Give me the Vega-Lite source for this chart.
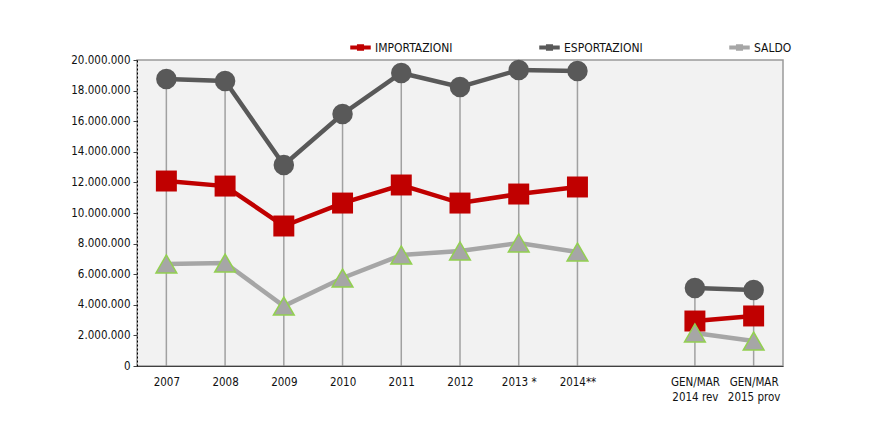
{
  "$schema": "https://vega.github.io/schema/vega-lite/v6.json",
  "autosize": "none",
  "width": 646,
  "height": 306,
  "padding": {"left": 137, "top": 60, "right": 95, "bottom": 64},
  "background": "white",
  "config": {
    "locale": {"number": {"decimal": ",", "thousands": ".", "grouping": [3], "currency": ["€", ""]}},
    "font": "DejaVu Sans Condensed",
    "view": {"fill": "#f2f2f2", "stroke": "#9a9a9a", "strokeWidth": 1.5}
  },
  "data": {"values": [
    {"periodo": "2007", "serie": "ESPORTAZIONI", "valore": 18760000, "gruppo": "anni"},
    {"periodo": "2008", "serie": "ESPORTAZIONI", "valore": 18630000, "gruppo": "anni"},
    {"periodo": "2009", "serie": "ESPORTAZIONI", "valore": 13140000, "gruppo": "anni"},
    {"periodo": "2010", "serie": "ESPORTAZIONI", "valore": 16470000, "gruppo": "anni"},
    {"periodo": "2011", "serie": "ESPORTAZIONI", "valore": 19150000, "gruppo": "anni"},
    {"periodo": "2012", "serie": "ESPORTAZIONI", "valore": 18240000, "gruppo": "anni"},
    {"periodo": "2013 *", "serie": "ESPORTAZIONI", "valore": 19350000, "gruppo": "anni"},
    {"periodo": "2014**", "serie": "ESPORTAZIONI", "valore": 19280000, "gruppo": "anni"},
    {"periodo": "GEN/MAR 2014 rev", "serie": "ESPORTAZIONI", "valore": 5100000, "gruppo": "trimestre"},
    {"periodo": "GEN/MAR 2015 prov", "serie": "ESPORTAZIONI", "valore": 4970000, "gruppo": "trimestre"},
    {"periodo": "2007", "serie": "IMPORTAZIONI", "valore": 12090000, "gruppo": "anni"},
    {"periodo": "2008", "serie": "IMPORTAZIONI", "valore": 11760000, "gruppo": "anni"},
    {"periodo": "2009", "serie": "IMPORTAZIONI", "valore": 9150000, "gruppo": "anni"},
    {"periodo": "2010", "serie": "IMPORTAZIONI", "valore": 10650000, "gruppo": "anni"},
    {"periodo": "2011", "serie": "IMPORTAZIONI", "valore": 11830000, "gruppo": "anni"},
    {"periodo": "2012", "serie": "IMPORTAZIONI", "valore": 10650000, "gruppo": "anni"},
    {"periodo": "2013 *", "serie": "IMPORTAZIONI", "valore": 11240000, "gruppo": "anni"},
    {"periodo": "2014**", "serie": "IMPORTAZIONI", "valore": 11700000, "gruppo": "anni"},
    {"periodo": "GEN/MAR 2014 rev", "serie": "IMPORTAZIONI", "valore": 2940000, "gruppo": "trimestre"},
    {"periodo": "GEN/MAR 2015 prov", "serie": "IMPORTAZIONI", "valore": 3270000, "gruppo": "trimestre"},
    {"periodo": "2007", "serie": "SALDO", "valore": 6670000, "gruppo": "anni"},
    {"periodo": "2008", "serie": "SALDO", "valore": 6730000, "gruppo": "anni"},
    {"periodo": "2009", "serie": "SALDO", "valore": 3920000, "gruppo": "anni"},
    {"periodo": "2010", "serie": "SALDO", "valore": 5750000, "gruppo": "anni"},
    {"periodo": "2011", "serie": "SALDO", "valore": 7250000, "gruppo": "anni"},
    {"periodo": "2012", "serie": "SALDO", "valore": 7520000, "gruppo": "anni"},
    {"periodo": "2013 *", "serie": "SALDO", "valore": 8040000, "gruppo": "anni"},
    {"periodo": "2014**", "serie": "SALDO", "valore": 7450000, "gruppo": "anni"},
    {"periodo": "GEN/MAR 2014 rev", "serie": "SALDO", "valore": 2160000, "gruppo": "trimestre"},
    {"periodo": "GEN/MAR 2015 prov", "serie": "SALDO", "valore": 1630000, "gruppo": "trimestre"}
  ]},
  "encoding": {
    "x": {
      "field": "periodo", "type": "ordinal",
      "scale": {"type": "point", "padding": 0.5,
        "domain": ["2007", "2008", "2009", "2010", "2011", "2012", "2013 *", "2014**", " ", "GEN/MAR 2014 rev", "GEN/MAR 2015 prov"]},
      "axis": {
        "title": null, "labelAngle": 0, "ticks": false, "domainColor": "#404040", "domainWidth": 1,
        "labelFontSize": 11.5, "labelColor": "#111111", "labelPadding": 10, "labelLineHeight": 15,
        "labelExpr": "indexof(datum.label, 'GEN') == 0 ? [slice(datum.label, 0, 7), slice(datum.label, 8)] : datum.label"
      }
    },
    "y": {"field": "valore", "type": "quantitative",
      "scale": {"domain": [0, 20000000]},
      "axis": {"title": null, "values": [0, 2000000, 4000000, 6000000, 8000000, 10000000, 12000000, 14000000, 16000000, 18000000, 20000000],
        "format": ",d", "grid": false, "labelOverlap": false, "domainDash": [2, 2], "domainColor": "#000000", "domainWidth": 1,
        "tickColor": "#404040", "tickSize": 4, "labelFontSize": 11.5, "labelColor": "#111111", "labelPadding": 3}}
  },
  "layer": [
    {
      "mark": {"type": "rule", "color": "#8c8c8c", "strokeWidth": 1.5, "opacity": 0.8},
      "encoding": {
        "y": {"aggregate": "max", "field": "valore", "type": "quantitative"},
        "y2": {"datum": 0}
      }
    },
    {
      "mark": {"type": "line", "strokeWidth": 4.5},
      "encoding": {
        "color": {"field": "serie", "type": "nominal",
          "scale": {"domain": ["IMPORTAZIONI", "ESPORTAZIONI", "SALDO"], "range": ["#c00000", "#595959", "#a6a6a6"]},
          "legend": {
            "title": null, "orient": "none", "legendX": 211, "legendY": -25, "direction": "horizontal",
            "columns": 3, "columnPadding": 78, "gridAlign": "none",
            "symbolType": "M-1,0H1M-0.15,-0.12H0.15V0.12H-0.15Z", "symbolSize": 420, "symbolStrokeWidth": 4,
            "labelFontSize": 12, "labelColor": "#111111", "labelOffset": 2
          }},
        "detail": {"field": "gruppo"}
      }
    },
    {
      "transform": [{"filter": "datum.serie == 'ESPORTAZIONI'"}],
      "mark": {"type": "point", "shape": "circle", "filled": true, "size": 420, "color": "#595959", "opacity": 1}
    },
    {
      "transform": [{"filter": "datum.serie == 'IMPORTAZIONI'"}],
      "mark": {"type": "point", "shape": "square", "filled": true, "size": 440, "color": "#c00000", "opacity": 1}
    },
    {
      "transform": [{"filter": "datum.serie == 'SALDO'"}],
      "mark": {"type": "point", "shape": "triangle-up", "filled": true, "size": 430, "fill": "#a6a6a6", "stroke": "#92d050", "strokeWidth": 1.5, "opacity": 1}
    }
  ]
}
